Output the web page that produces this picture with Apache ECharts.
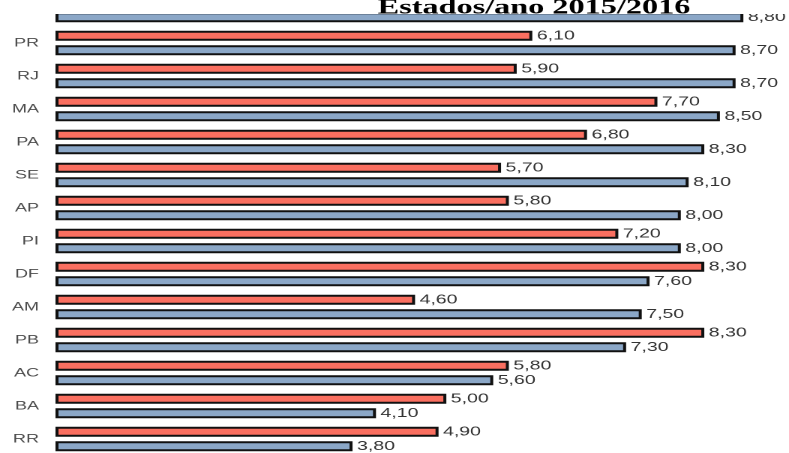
<!DOCTYPE html>
<html>
<head>
<meta charset="utf-8">
<script src="https://cdn.jsdelivr.net/npm/echarts@6/dist/echarts.min.js"></script>
<style>
  html, body { margin: 0; padding: 0; background: #fff; overflow: hidden; }
  /* o grafico original esta esticado na horizontal e cortado em cima */
  #chart { position: absolute; left: 0; top: -20px; width: 526px; height: 485px;
           transform: scaleX(1.5); transform-origin: 0 0; }
</style>
</head>
<body>
<div id="chart"></div>
<script>
// estados (o primeiro esta cortado na imagem, nome nao visivel)
const estados = ['', 'PR', 'RJ', 'MA', 'PA', 'SE', 'AP', 'PI', 'DF', 'AM', 'PB', 'AC', 'BA', 'RR']
// barra vermelha (valor do primeiro estado escondido -> estimado)
const ano2015 = [6.9, 6.10, 5.90, 7.70, 6.80, 5.70, 5.80, 7.20, 8.30, 4.60, 8.30, 5.80, 5.00, 4.90]
// barra azul
const ano2016 = [8.80, 8.70, 8.70, 8.50, 8.30, 8.10, 8.00, 8.00, 7.60, 7.50, 7.30, 5.60, 4.10, 3.80]

const fmt = (p) => p.value.toFixed(2).replace('.', ',')

let myChart = echarts.init(document.getElementById('chart'), null, { devicePixelRatio: 2 })
myChart.setOption({
  backgroundColor: '#fff',
  animation: false,
  title: {
    text: 'Estados/ano 2015/2016',
    left: 351,
    textAlign: 'center',
    top: 12,
    z: 100,
    textStyle: {
      fontFamily: 'Liberation Serif',
      fontWeight: 'bold',
      fontSize: 21.5,
      color: '#000'
    }
  },
  graphic: [{
    type: 'rect',
    z: 90,
    shape: { x: 0, y: 0, width: 526, height: 34 },
    style: { fill: '#fff' }
  }],
  grid: {
    left: 37,
    right: 20,
    top: 13.5,
    bottom: 9.5
  },
  xAxis: {
    type: 'value',
    min: 0,
    max: 9,
    show: false
  },
  yAxis: {
    type: 'category',
    inverse: true,
    data: estados,
    axisLine: { show: false },
    axisTick: { show: false },
    axisLabel: {
      margin: 11,
      fontFamily: 'Liberation Sans',
      fontSize: 12,
      color: '#4d4d4d'
    }
  },
  series: [{
    name: '2015',
    type: 'bar',
    data: ano2015,
    barWidth: 10,
    barGap: '45%',
    itemStyle: { color: '#fa6f60', borderColor: '#111', borderWidth: 2 },
    label: {
      show: true, position: 'right', distance: 3, formatter: fmt,
      fontFamily: 'Liberation Sans', fontSize: 13, color: '#333'
    }
  }, {
    name: '2016',
    type: 'bar',
    data: ano2016,
    barWidth: 10,
    itemStyle: { color: '#8ba7c7', borderColor: '#111', borderWidth: 2 },
    label: {
      show: true, position: 'right', distance: 3, formatter: fmt,
      fontFamily: 'Liberation Sans', fontSize: 13, color: '#333'
    }
  }]
})
</script>
</body>
</html>
